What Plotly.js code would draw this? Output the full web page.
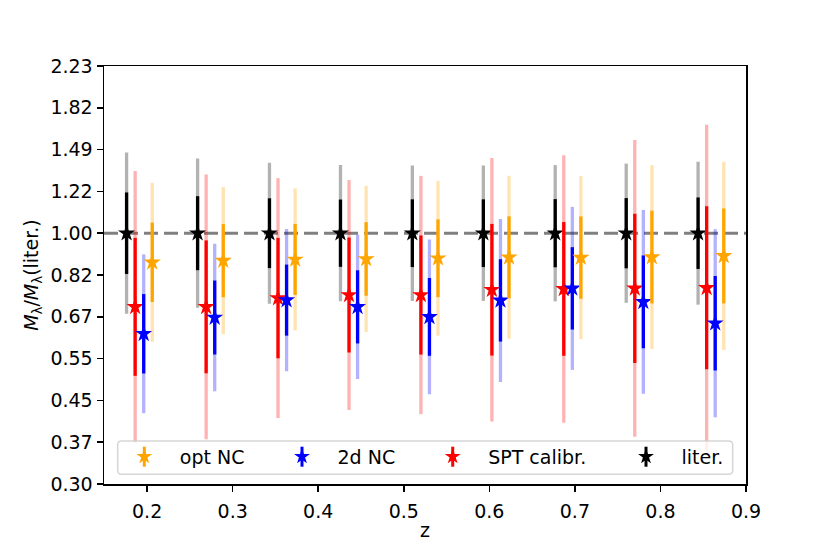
<!DOCTYPE html>
<html>
<head>
<meta charset="utf-8">
<script src="https://cdn.plot.ly/plotly-3.0.1.min.js"></script>
<style>html,body{margin:0;padding:0;background:#fff;}#chart{width:830px;height:554px;}</style>
</head>
<body>
<div id="chart"></div>
<script>
// ---- data ----
const zBins = [0.176, 0.259, 0.343, 0.426, 0.510, 0.593, 0.677, 0.760, 0.844];

const literValues = [1.000, 1.000, 1.000, 1.000, 1.000, 1.000, 1.000, 1.000, 1.000];
const literSig1   = [0.195, 0.177, 0.167, 0.161, 0.162, 0.162, 0.163, 0.168, 0.171];
const literSig2   = [0.386, 0.357, 0.337, 0.326, 0.324, 0.324, 0.326, 0.333, 0.342];

const sptValues = [0.703, 0.703, 0.733, 0.744, 0.744, 0.763, 0.766, 0.768, 0.770];
const sptSig1   = [0.330, 0.318, 0.288, 0.275, 0.285, 0.315, 0.320, 0.357, 0.390];
const sptSig2   = [0.650, 0.633, 0.574, 0.550, 0.570, 0.630, 0.640, 0.710, 0.780];

const nc2dValues = [0.618, 0.668, 0.726, 0.703, 0.670, 0.725, 0.768, 0.720, 0.650];
const nc2dSig1   = [0.190, 0.177, 0.170, 0.175, 0.186, 0.197, 0.197, 0.222, 0.226];
const nc2dSig2   = [0.380, 0.353, 0.340, 0.345, 0.370, 0.390, 0.390, 0.440, 0.450];

const optValues = [0.870, 0.877, 0.882, 0.884, 0.887, 0.891, 0.890, 0.892, 0.897];
const optSig1   = [0.190, 0.175, 0.170, 0.176, 0.186, 0.196, 0.197, 0.222, 0.227];
const optSig2   = [0.380, 0.352, 0.340, 0.350, 0.370, 0.390, 0.390, 0.440, 0.450];

const yTickLabels = ["0.30","0.37","0.45","0.55","0.67","0.82","1.00","1.22","1.49","1.82","2.23"];
const xTickLabels = ["0.2","0.3","0.4","0.5","0.6","0.7","0.8","0.9"];
const legendOrder = ["opt NC", "2d NC", "SPT calibr.", "liter."];

// ---- styling ----
const FONT = "DejaVu Sans, Liberation Sans, sans-serif";
const FS = 19;
const W = 830, H = 554;
const M = {l: 104, r: 84, t: 66, b: 70};
const PW = W - M.l - M.r, PH = H - M.t - M.b;
const xRange = [0.1496, 0.9];

const series = [
  {name: "liter.",      vals: literValues, s1: literSig1, s2: literSig2, dz: 0.00, color: "#000000", light: "rgba(0,0,0,0.3)"},
  {name: "SPT calibr.", vals: sptValues,   s1: sptSig1,   s2: sptSig2,   dz: 0.01, color: "#ff0000", light: "rgba(255,0,0,0.3)"},
  {name: "2d NC",       vals: nc2dValues,  s1: nc2dSig1,  s2: nc2dSig2,  dz: 0.02, color: "#0000ff", light: "rgba(0,0,255,0.3)"},
  {name: "opt NC",      vals: optValues,   s1: optSig1,   s2: optSig2,   dz: 0.03, color: "#ffa500", light: "rgba(255,165,0,0.3)"}
];

const traces = [];
// reference line at 1
traces.push({
  x: xRange, y: [1, 1], mode: "lines", showlegend: false, hoverinfo: "skip",
  line: {color: "#808080", width: 3, dash: "14px,6px"}
});

const legendIds = {};
legendOrder.forEach((n, i) => { legendIds[n] = i === 0 ? "legend" : "legend" + (i + 1); });

function errs(vals, sig) {
  return {
    type: "data", symmetric: false,
    array: vals.map((v, i) => v * (Math.exp(sig[i]) - 1)),
    arrayminus: vals.map((v, i) => v * (1 - Math.exp(-sig[i])))
  };
}

series.forEach(s => {
  const xs = zBins.map(z => z + s.dz);
  // 2-sigma (light)
  traces.push({
    x: xs, y: s.vals, mode: "markers", showlegend: false, hoverinfo: "skip",
    marker: {size: 1, opacity: 0},
    error_y: Object.assign(errs(s.vals, s.s2), {color: s.light, thickness: 3.3, width: 0})
  });
  // 1-sigma + marker
  traces.push({
    x: xs, y: s.vals, mode: "markers", name: s.name, legend: legendIds[s.name],
    marker: {symbol: "star", size: 13, color: s.color, line: {width: 0}},
    error_y: Object.assign(errs(s.vals, s.s1), {color: s.color, thickness: 3.3, width: 0})
  });
});

// legend geometry (pixels in the figure)
const legBox = {x0: 117.7, x1: 732.7, y0: 441, y1: 474.3};
const legMarkerX = {"opt NC": 144.3, "2d NC": 302, "SPT calibr.": 452.7, "liter.": 646};
const legMarkerY = 456.7;
const px2x = p => (p - M.l) / PW;
const px2y = p => (H - M.b - p) / PH;

const layout = {
  width: W, height: H,
  margin: M,
  paper_bgcolor: "#ffffff", plot_bgcolor: "#ffffff",
  font: {family: FONT, size: FS, color: "#000"},
  showlegend: true,
  xaxis: {
    range: xRange, type: "linear",
    tickvals: xTickLabels.map(Number), ticktext: xTickLabels,
    ticks: "outside", ticklen: 6, tickwidth: 1.5, tickcolor: "#000",
    ticklabelstandoff: 4,
    showline: true, linecolor: "#000", linewidth: 1.5, mirror: true,
    showgrid: false, zeroline: false,
    tickfont: {family: FONT, size: FS},
    title: {text: "z", font: {family: FONT, size: FS}, standoff: 2}
  },
  yaxis: {
    type: "log",
    range: [-1.2 / Math.LN10, 0.8 / Math.LN10],
    tickvals: yTickLabels.map((t, i) => Math.exp(-1.2 + 0.2 * i)), ticktext: yTickLabels,
    ticks: "outside", ticklen: 6, tickwidth: 1.5, tickcolor: "#000",
    showline: true, linecolor: "#000", linewidth: 1.5, mirror: true,
    showgrid: false, zeroline: false,
    tickfont: {family: FONT, size: FS},
    title: {text: "<i>M</i><sub>λ</sub>/<i>M</i><sub>λ</sub>(liter.)", font: {family: FONT, size: FS}, standoff: 6}
  },
  shapes: [],
  annotations: []
};

// rounded legend frame
(function() {
  const r = 4;
  const x0 = legBox.x0, x1 = legBox.x1, y0 = legBox.y0, y1 = legBox.y1;
  const P = (x, y) => px2x(x).toFixed(5) + "," + px2y(y).toFixed(5);
  const path = "M" + P(x0 + r, y0) + " L" + P(x1 - r, y0) + " Q" + P(x1, y0) + " " + P(x1, y0 + r) +
    " L" + P(x1, y1 - r) + " Q" + P(x1, y1) + " " + P(x1 - r, y1) +
    " L" + P(x0 + r, y1) + " Q" + P(x0, y1) + " " + P(x0, y1 - r) +
    " L" + P(x0, y0 + r) + " Q" + P(x0, y0) + " " + P(x0 + r, y0) + " Z";
  layout.shapes.push({type: "path", xref: "paper", yref: "paper", path: path, layer: "above",
    fillcolor: "rgba(255,255,255,0.8)", line: {color: "rgba(204,204,204,0.8)", width: 1.5}});
})();

legendOrder.forEach(n => {
  const s = series.find(q => q.name === n);
  const mx = legMarkerX[n];
  layout[legendIds[n]] = {
    x: px2x(mx - 35.5), y: px2y(legMarkerY), xanchor: "left", yanchor: "middle",
    xref: "paper", yref: "paper",
    bgcolor: "rgba(0,0,0,0)", borderwidth: 0,
    font: {family: FONT, size: FS, color: "#000"},
    itemwidth: 61, itemsizing: "constant"
  };
  // small vertical bar through the legend star, like the reference handle
  layout.shapes.push({type: "line", xref: "paper", yref: "paper", layer: "above",
    x0: px2x(mx), x1: px2x(mx), y0: px2y(legMarkerY - 10), y1: px2y(legMarkerY + 10),
    line: {color: s.color, width: 3}});
});

Plotly.newPlot("chart", traces, layout, {staticPlot: true, displayModeBar: false});
</script>
</body>
</html>
